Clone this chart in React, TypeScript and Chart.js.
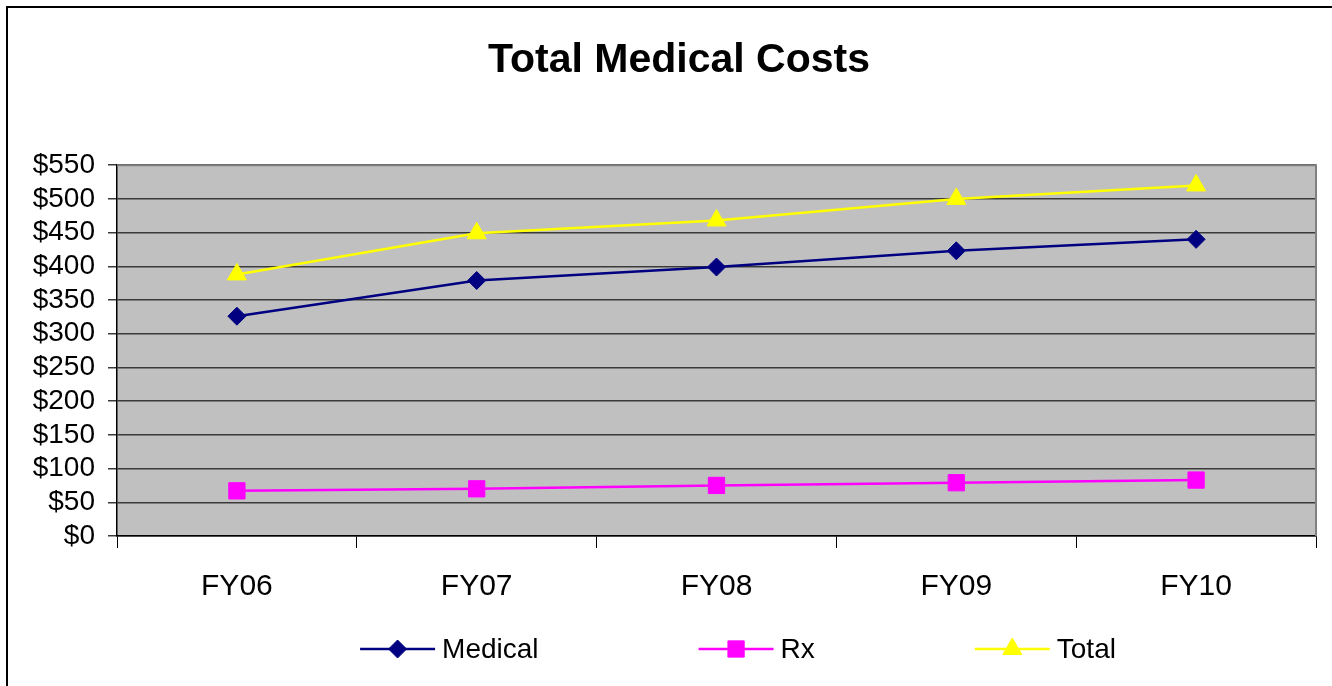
import React, { useEffect, useRef } from 'react';
import { Chart, registerables } from 'chart.js';
import { drawPoint } from 'chart.js/helpers';

Chart.register(...registerables);

const categories = ['FY06', 'FY07', 'FY08', 'FY09', 'FY10'];
const medical = [326, 379, 399, 423, 440];
const rx = [67, 70, 75, 79, 83];
const total = [388, 449, 468, 500, 520];
const yMin = 0;
const yMax = 550;
const yStep = 50;
const titleText = 'Total Medical Costs';

const FONT = '"Liberation Sans", Arial, sans-serif';
const TITLE_SIZE = 41;
const TITLE_PAD_TOP = 36;

const plotBg = {
  id: 'plotBg',
  beforeDraw(chart: any) {
    const { ctx, chartArea } = chart;
    const { left, top, right, bottom } = chartArea;
    ctx.save();
    ctx.fillStyle = '#C0C0C0';
    ctx.fillRect(left, top, right - left, bottom - top);
    ctx.restore();
  },
  beforeDatasetsDraw(chart: any) {
    const { ctx, chartArea } = chart;
    const { left, top, right, bottom } = chartArea;
    ctx.save();
    ctx.strokeStyle = '#808080';
    ctx.lineWidth = 2;
    ctx.beginPath();
    ctx.moveTo(left, top);
    ctx.lineTo(right, top);
    ctx.lineTo(right, bottom);
    ctx.stroke();
    ctx.restore();
  },
};

// Draws the title text (space reserved by the built-in title block) shifted horizontally like the original
const shiftedTitle = {
  id: 'shiftedTitle',
  afterDraw(chart: any) {
    const { ctx } = chart;
    const opts = chart.options.plugins.shiftedTitle;
    const tb = chart.titleBlock;
    ctx.save();
    ctx.font = `bold ${TITLE_SIZE}px ${FONT}`;
    ctx.fillStyle = '#000';
    ctx.textAlign = 'center';
    ctx.textBaseline = 'middle';
    ctx.fillText(titleText, chart.width / 2 + opts.offsetX, tb.top + TITLE_PAD_TOP + (TITLE_SIZE * 1.2) / 2);
    ctx.restore();
  },
};

const lineLegend = {
  id: 'lineLegend',
  afterDraw(chart: any) {
    const { ctx } = chart;
    const opts = chart.options.plugins.lineLegend;
    const lineLen = opts.lineLength;
    const textGap = opts.textGap;
    const itemGap = opts.itemGap;
    ctx.save();
    ctx.font = opts.font;
    const items = chart.data.datasets.map((ds: any) => {
      const tw = ctx.measureText(ds.label).width;
      return { ds, tw, w: lineLen + textGap + tw };
    });
    const totalW = items.reduce((s: number, it: any) => s + it.w, 0) + itemGap * (items.length - 1);
    let x = opts.centerX - totalW / 2;
    const y = chart.height - opts.bottomOffset;
    for (const it of items) {
      const ds = it.ds;
      ctx.strokeStyle = ds.borderColor;
      ctx.lineWidth = ds.borderWidth;
      ctx.beginPath();
      ctx.moveTo(x, y);
      ctx.lineTo(x + lineLen, y);
      ctx.stroke();
      ctx.fillStyle = ds.pointBackgroundColor;
      ctx.strokeStyle = ds.pointBorderColor;
      ctx.lineWidth = 1;
      drawPoint(ctx, { pointStyle: ds.pointStyle, radius: ds.pointRadius, rotation: 0, borderWidth: 1 } as any, x + lineLen / 2, y);
      ctx.fillStyle = '#000';
      ctx.textBaseline = 'middle';
      ctx.textAlign = 'left';
      ctx.fillText(ds.label, x + lineLen + textGap, y + 1);
      x += it.w + itemGap;
    }
    ctx.restore();
  },
};

export default function App() {
  const ref = useRef<HTMLCanvasElement | null>(null);

  useEffect(() => {
    if (!ref.current) return;
    const mk = (label: string, data: number[], color: string, style: string, radius: number) => ({
      label,
      data,
      borderColor: color,
      backgroundColor: color,
      borderWidth: 2.5,
      pointStyle: style,
      pointRadius: radius,
      pointBackgroundColor: color,
      pointBorderColor: color,
      pointBorderWidth: 1,
      tension: 0,
      fill: false,
    });
    const chart = new Chart(ref.current, {
      type: 'line',
      data: {
        labels: categories,
        datasets: [
          mk('Medical', medical, '#000080', 'rectRot', 9),
          mk('Rx', rx, '#FF00FF', 'rect', 11.5),
          mk('Total', total, '#FFFF00', 'triangle', 11),
        ] as any,
      },
      options: {
        animation: false,
        responsive: false,
        maintainAspectRatio: false,
        layout: { padding: { left: 0, right: 16, top: 0, bottom: 75 } },
        plugins: {
          legend: { display: false },
          tooltip: { enabled: false },
          title: {
            display: true,
            text: titleText,
            color: 'rgba(0,0,0,0)',
            font: { family: FONT, size: TITLE_SIZE, weight: 'bold', lineHeight: 1.2 },
            padding: { top: TITLE_PAD_TOP, bottom: 80 },
          },
          shiftedTitle: { offsetX: 13 },
          lineLegend: {
            font: `28px ${FONT}`,
            lineLength: 75,
            textGap: 7,
            itemGap: 160,
            centerX: 738,
            bottomOffset: 37,
          },
        } as any,
        scales: {
          x: {
            type: 'category',
            offset: true,
            grid: {
              offset: true,
              drawOnChartArea: false,
              drawTicks: true,
              tickLength: 12,
              color: '#000',
              lineWidth: 1,
            },
            border: { display: true, color: '#000', width: 1.5 },
            ticks: {
              color: '#000',
              padding: 21,
              font: { family: FONT, size: 30 },
              maxRotation: 0,
            },
            afterFit(scale: any) {
              scale.height = 75;
            },
          },
          y: {
            min: yMin,
            max: yMax,
            grid: {
              color: '#3a3a3a',
              lineWidth: 1.5,
              drawTicks: true,
              tickLength: 9,
            },
            border: { display: true, color: '#000', width: 1.5 },
            ticks: {
              stepSize: yStep,
              autoSkip: false,
              color: '#000',
              padding: 13,
              font: { family: FONT, size: 28 },
              callback: (v: any) => '$' + v,
            },
            afterFit(scale: any) {
              scale.width = 117;
            },
          },
        },
      },
      plugins: [plotBg, shiftedTitle, lineLegend],
    });
    return () => chart.destroy();
  }, []);

  return (
    <div style={{ position: 'fixed', left: 0, top: 0, width: 1332, height: 686, background: '#fff' }}>
      <canvas ref={ref} width={1332} height={686} style={{ display: 'block' }} />
      <div
        style={{
          position: 'absolute',
          left: 6,
          top: 6,
          right: -4,
          bottom: -4,
          borderTop: '2px solid #000',
          borderLeft: '2px solid #000',
          pointerEvents: 'none',
        }}
      />
    </div>
  );
}
